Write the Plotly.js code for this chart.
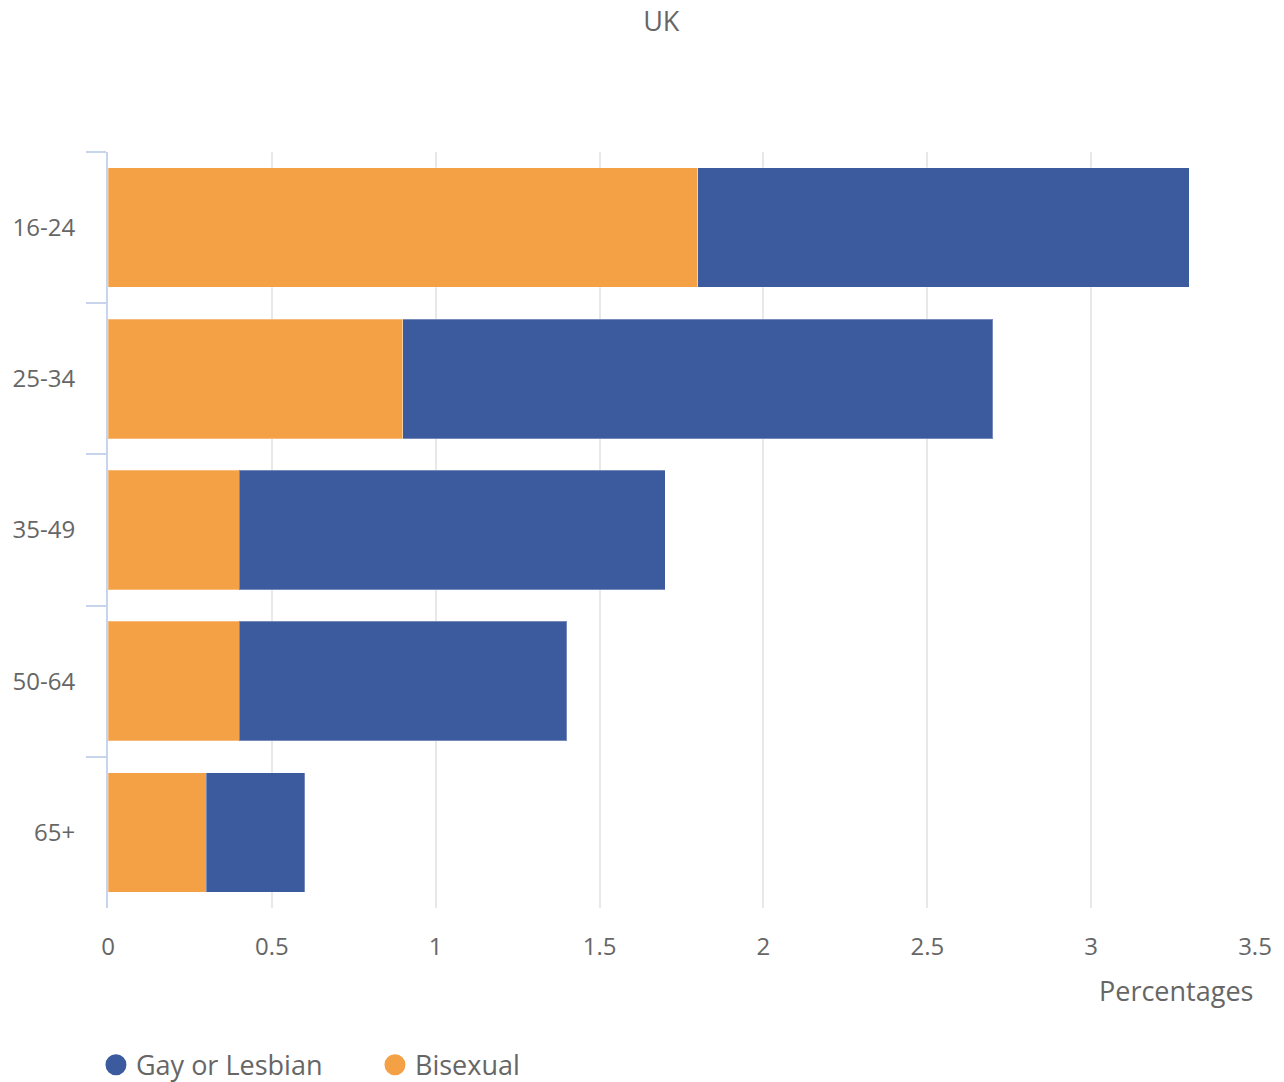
<!DOCTYPE html>
<html>
<head>
<meta charset="utf-8">
<script src="https://cdn.plot.ly/plotly-3.0.1.min.js"></script>
<style>html,body{margin:0;padding:0;background:#fff}#chart{width:1284px;height:1082px}</style>
</head>
<body>
<div id="chart"></div>
<script>
const ageGroups = ["16-24", "25-34", "35-49", "50-64", "65+"];
const bisexual = [1.8, 0.9, 0.4, 0.4, 0.3];
const gayOrLesbian = [1.5, 1.8, 1.3, 1.0, 0.3];
const xTicks = [0, 0.5, 1, 1.5, 2, 2.5, 3, 3.5];

const orange = "#f4a044";
const blue = "#3c5a9e";
const font = "Open Sans, sans-serif";

const traces = [
  {type: "bar", orientation: "h", name: "Bisexual", y: ageGroups, x: bisexual,
   marker: {color: orange, line: {color: "rgba(255,255,255,0.3)", width: 1}}, showlegend: false, hoverinfo: "x+y+name"},
  {type: "bar", orientation: "h", name: "Gay or Lesbian", y: ageGroups, x: gayOrLesbian,
   marker: {color: blue, line: {color: "rgba(255,255,255,0.3)", width: 1}}, showlegend: false, hoverinfo: "x+y+name"},
  {type: "scatter", mode: "markers", name: "Gay or Lesbian", x: [null], y: [null],
   marker: {color: blue, size: 26, line: {color: blue, width: 5}}, showlegend: true},
  {type: "scatter", mode: "markers", name: "Bisexual", x: [null], y: [null],
   marker: {color: orange, size: 26, line: {color: orange, width: 5}}, showlegend: true}
];

const layout = {
  width: 1284, height: 1082,
  margin: {l: 108, r: 29, t: 152, b: 174, autoexpand: false},
  paper_bgcolor: "#fff", plot_bgcolor: "#fff",
  font: {family: font, color: "#666", size: 24},
  barmode: "stack", bargap: 0.21,
  title: {text: "UK", x: 0.515, xref: "container", xanchor: "center", y: 0.98, yref: "container", yanchor: "middle",
          font: {family: font, size: 27, color: "#666"}},
  xaxis: {range: [0, 3.5], tickvals: xTicks, ticktext: xTicks.map(String),
          showgrid: true, gridcolor: "#e8e8e8", gridwidth: 2, zeroline: false, showline: false,
          ticks: "", tickfont: {size: 24, color: "#666"}, ticklabelstandoff: 22, fixedrange: true},
  yaxis: {type: "category", categoryorder: "array", categoryarray: ageGroups, autorange: "reversed",
          showline: true, linecolor: "#c8d4ec", linewidth: 2, ticks: "outside", ticklen: 20, tickwidth: 2,
          tickcolor: "#c8d4ec", tickson: "boundaries", showgrid: false, zeroline: false,
          tickfont: {size: 24, color: "#666"}, ticklabelstandoff: 26, fixedrange: true},
  showlegend: true,
  legend: {orientation: "h", x: -0.0105, xanchor: "left", y: -0.208, yanchor: "middle",
           font: {family: font, size: 27, color: "#666"}, itemsizing: "trace", entrywidth: 234, traceorder: "normal"},
  annotations: [{text: "Percentages", xref: "paper", yref: "paper", x: 1, y: -0.109, xanchor: "right", yanchor: "middle",
                 showarrow: false, font: {family: font, size: 27, color: "#666"}}]
};

Plotly.newPlot("chart", traces, layout, {displayModeBar: false});
</script>
</body>
</html>
